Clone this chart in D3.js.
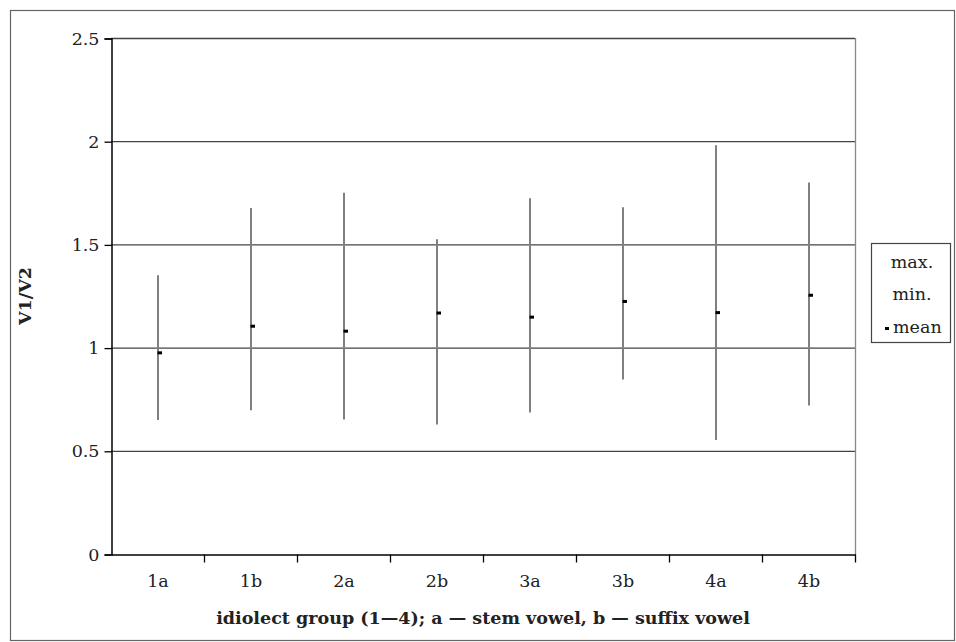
<!DOCTYPE html>
<html><head><meta charset="utf-8">
<script src="https://cdnjs.cloudflare.com/ajax/libs/d3/7.8.5/d3.min.js"></script>
<style>body{margin:0;background:#fff}svg{display:block}text{font-family:"DejaVu Serif",serif;fill:#222}</style>
</head><body><svg id="c" width="956" height="642"></svg>
<script>
const categories = ["1a","1b","2a","2b","3a","3b","4a","4b"];
const maxValues  = [1.35,1.676,1.75,1.525,1.723,1.68,1.98,1.80];
const minValues  = [0.649,0.696,0.652,0.628,0.686,0.846,0.552,0.719];
const meanValues = [0.977,1.106,1.082,1.17,1.15,1.226,1.172,1.256];
const yTicks = [0,0.5,1,1.5,2,2.5];
const yTickLabels = ["0","0.5","1","1.5","2","2.5"];
const legendLabels = ["max.","min.","mean"];

const FONT = "'DejaVu Serif',serif";
const FS = 17.5;
const svg = d3.select("#c");
const L=111,R=855,T=38,B=554;
svg.append("rect").attr("x",10.5).attr("y",10.5).attr("width",944).attr("height",630)
  .attr("fill","none").attr("stroke","#666").attr("stroke-width",1.2);

const x = d3.scaleBand().domain(categories).range([L,R]).padding(0);
const y = d3.scaleLinear().domain([0,2.5]).range([B,T]);

svg.append("g").selectAll("line").data(yTicks.filter(d=>d>0)).join("line")
  .attr("x1",L).attr("x2",R).attr("y1",d=>y(d)+0.5).attr("y2",d=>y(d)+0.5)
  .attr("stroke","#444").attr("stroke-width",1.3);
svg.append("line").attr("x1",R+0.5).attr("x2",R+0.5).attr("y1",T).attr("y2",B)
  .attr("stroke","#888").attr("stroke-width",1.3);

const ya = svg.append("g").attr("transform",`translate(${L+0.5},0.5)`)
  .call(d3.axisLeft(y).tickValues(yTicks).tickFormat((d,i)=>yTickLabels[i]).tickSize(7).tickPadding(5));
ya.select(".domain").attr("stroke","#000").attr("stroke-width",1.5);
ya.selectAll(".tick line").attr("stroke","#000").attr("stroke-width",1.3);
ya.selectAll("text").style("font-size",FS+"px").attr("fill","#222").style("font-family",FONT);

const xa = svg.append("g").attr("transform",`translate(0.5,${B+0.5})`)
  .call(d3.axisBottom(x).tickSize(0).tickPadding(14));
xa.select(".domain").attr("stroke","#000").attr("stroke-width",1.5);
xa.selectAll("text").style("font-size",FS+"px").attr("fill","#222").style("font-family",FONT)
  .attr("y",32.5).attr("dy",null);
const bounds = categories.map(c=>x(c)).concat([R]).slice(1);
xa.append("g").selectAll("line").data(bounds).join("line")
  .attr("x1",d=>d).attr("x2",d=>d).attr("y1",0).attr("y2",8)
  .attr("stroke","#000").attr("stroke-width",1.3);

const cx = c => Math.round(x(c)+x.bandwidth()/2);
svg.append("g").selectAll("line").data(categories).join("line")
  .attr("x1",c=>cx(c)).attr("x2",c=>cx(c))
  .attr("y1",(c,i)=>y(maxValues[i])).attr("y2",(c,i)=>y(minValues[i]))
  .attr("stroke","#808080").attr("stroke-width",2);
svg.append("g").selectAll("rect").data(categories).join("rect")
  .attr("x",c=>cx(c)-0.5).attr("y",(c,i)=>y(meanValues[i])-1)
  .attr("width",4.5).attr("height",3).attr("fill","#000");

const xt = svg.append("text").attr("x",(L+R)/2).attr("y",624).attr("text-anchor","middle")
  .style("font-size","16px").style("font-weight","bold")
  .text("idiolect group (1—4); a — stem vowel, b — suffix vowel");
const w = xt.node().getComputedTextLength();
xt.style("font-size",(16*534/w).toFixed(2)+"px");
svg.append("text").attr("transform","translate(31,296) rotate(-90)").attr("text-anchor","middle")
  .style("font-size",(16*534/w).toFixed(2)+"px").style("font-weight","bold").text("V1/V2");

const lg = svg.append("g");
lg.append("rect").attr("x",871.5).attr("y",243.5).attr("width",79).attr("height",99)
  .attr("fill","#fff").attr("stroke","#444").attr("stroke-width",1.2);
const ly = [268,300,333];
lg.selectAll("text").data(legendLabels).join("text")
  .attr("x",(d,i)=>i===2?893:912).attr("y",(d,i)=>ly[i])
  .attr("text-anchor",(d,i)=>i===2?"start":"middle")
  .style("font-size",FS+"px").text(d=>d);
lg.append("rect").attr("x",885).attr("y",ly[2]-6).attr("width",4).attr("height",3).attr("fill","#000");
</script></body></html>
